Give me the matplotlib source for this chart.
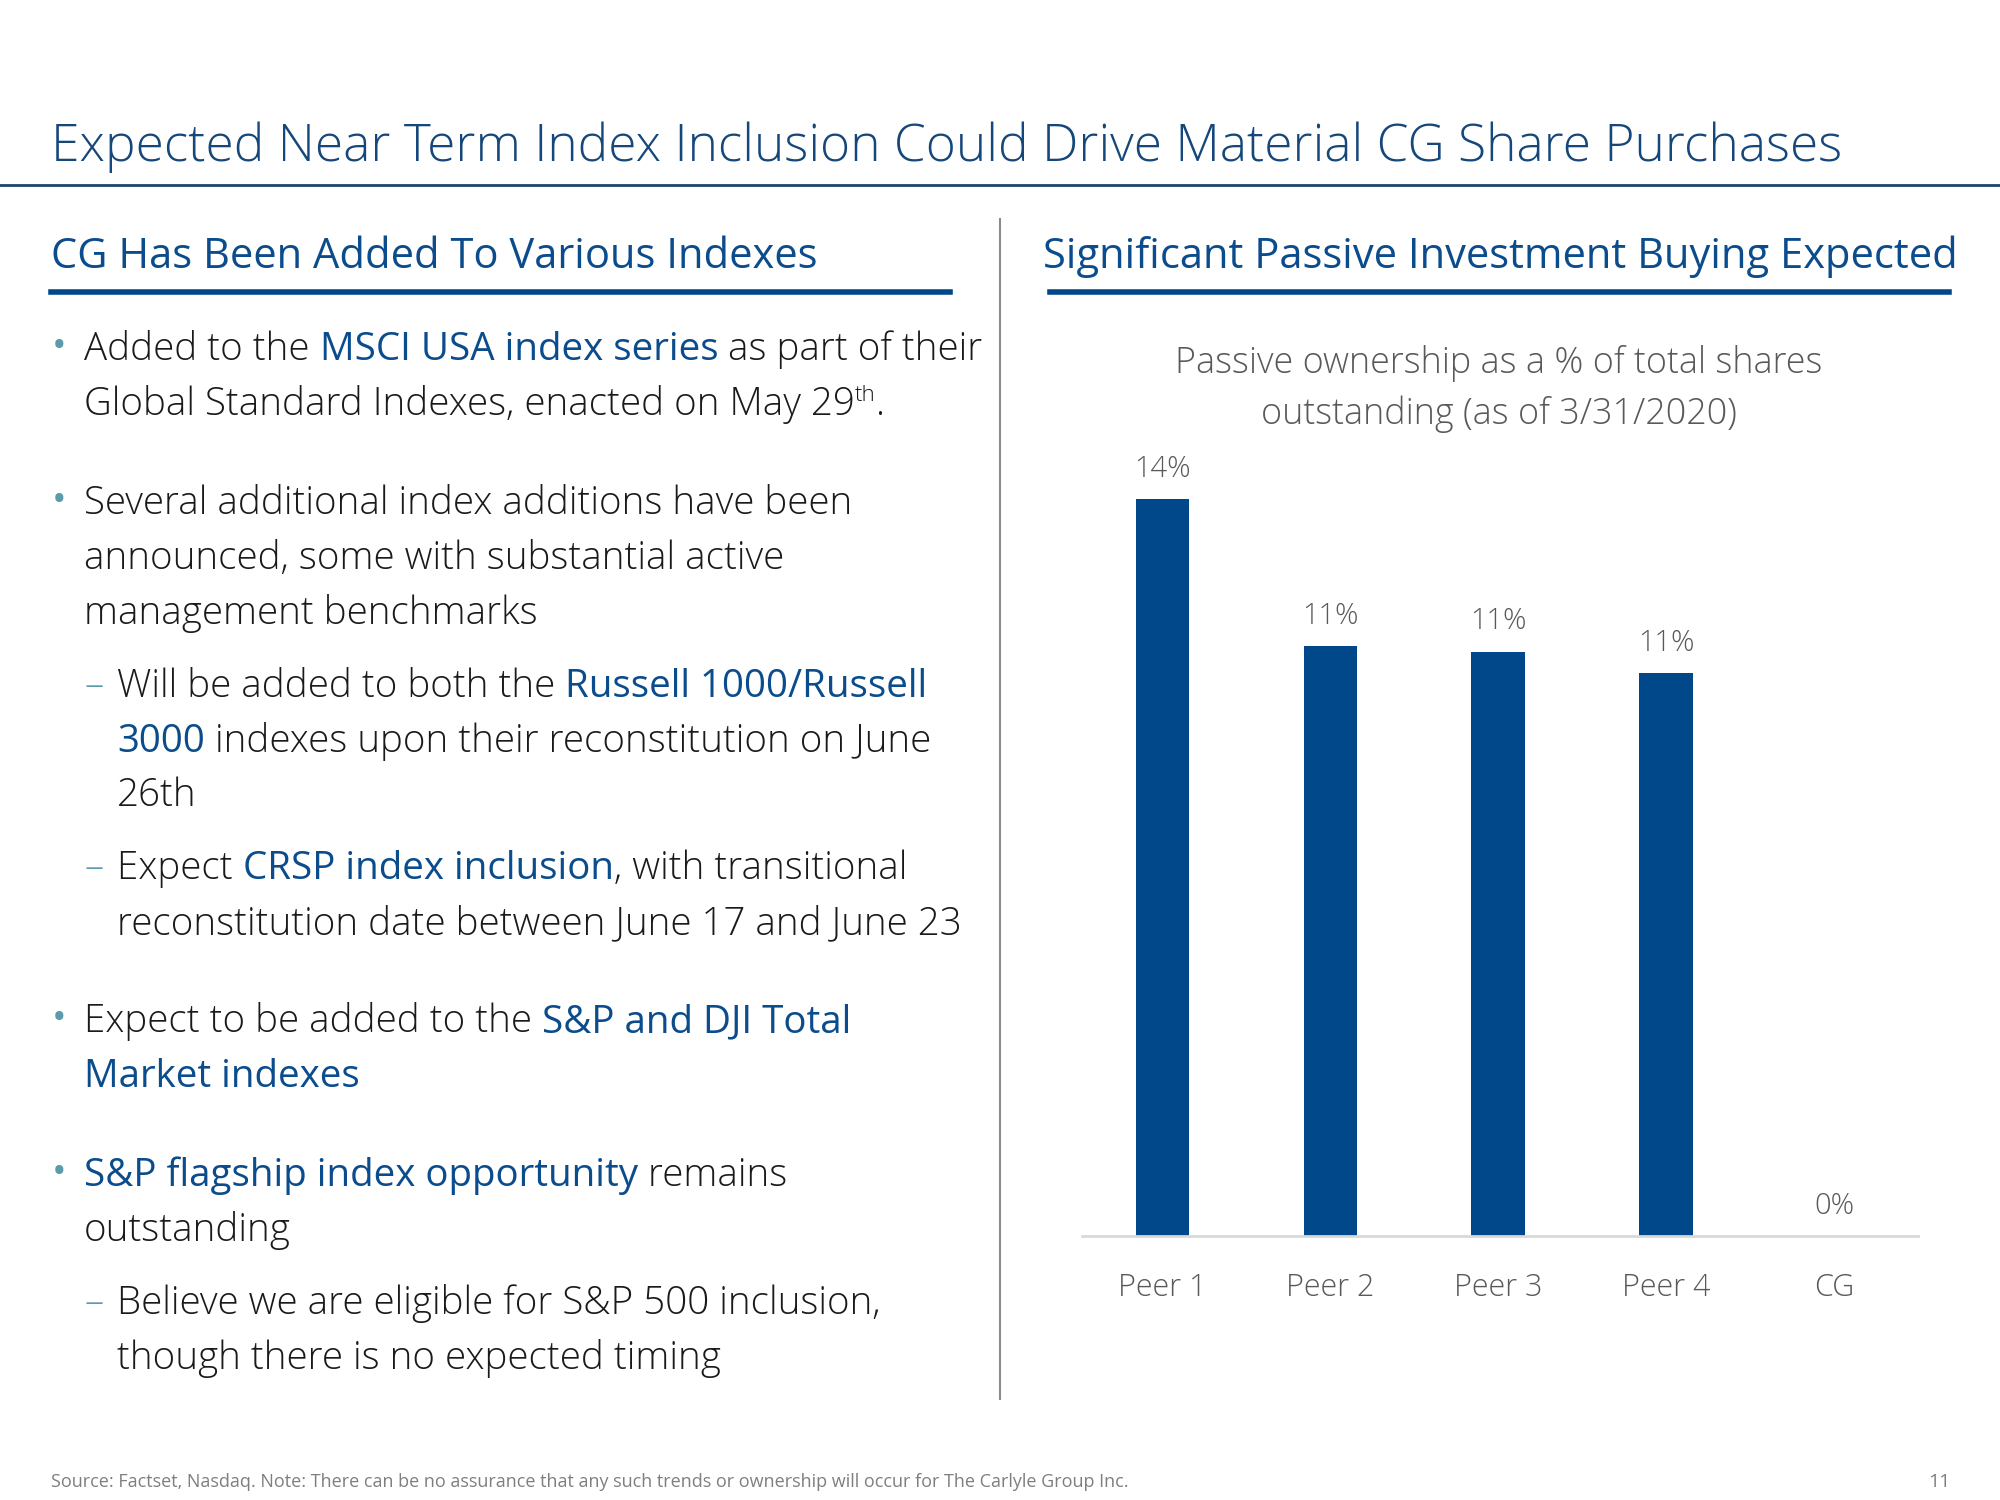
import matplotlib
matplotlib.use('Agg')
import matplotlib.pyplot as plt

# Данные графика
categories = ['Peer 1', 'Peer 2', 'Peer 3', 'Peer 4', 'CG']
values = [14.0, 11.2, 11.1, 10.7, 0.0]
value_labels = ['14%', '11%', '11%', '11%', '0%']

FONT = 'Open Sans'
W, H = 2000, 1500

NAVY = '#15477A'
BLUE = '#0B4C8C'
BAR = '#00488A'
TEAL = '#5B9BAB'
TXT = '#1A1A1A'
GRAY = '#595959'

fig = plt.figure(figsize=(20, 15), dpi=100)
renderer = fig.canvas.get_renderer()


def fx(x):
    return x / W


def fy(y):
    return 1 - y / H


def runs(x, y, parts, size):
    # parts: (текст, цвет, толщина)
    for txt, col, wt in parts:
        t = fig.text(fx(x), fy(y), txt, fontsize=size, color=col, fontweight=wt,
                     family=FONT, ha='left', va='baseline')
        x += t.get_window_extent(renderer).width
    return x


# Заголовок слайда
fig.text(fx(51), fy(161), 'Expected Near Term Index Inclusion Could Drive Material CG Share Purchases',
         fontsize=37, color=NAVY, family=FONT, fontweight='light', va='baseline')
fig.add_artist(plt.Line2D([0, 1], [fy(185), fy(185)], color='#1F4468', lw=2))

# Подзаголовки
fig.text(fx(51), fy(268), 'CG Has Been Added To Various Indexes', fontsize=30, color=BLUE,
         family=FONT, va='baseline')
fig.add_artist(plt.Line2D([fx(51), fx(950)], [fy(292), fy(292)], color=BAR, lw=4))
fig.text(fx(1043), fy(268), 'Significant Passive Investment Buying Expected', fontsize=30, color=BLUE,
         family=FONT, va='baseline')
fig.add_artist(plt.Line2D([fx(1050), fx(1949)], [fy(292), fy(292)], color=BAR, lw=4))

# Вертикальный разделитель
fig.add_artist(plt.Line2D([fx(1000), fx(1000)], [fy(219), fy(1399)], color='#8C8C8C', lw=1.5))

# Текст слева
BODY = 27.7
L, N = 'light', 'normal'
lines = [
    (360, 0, [('Added to the ', TXT, L), ('MSCI USA index series', BLUE, N), (' as part of their', TXT, L)]),
    (415, None, [('Global Standard Indexes, enacted on May 29', TXT, L)]),
    (514, 0, [('Several additional index additions have been', TXT, L)]),
    (569, None, [('announced, some with substantial active', TXT, L)]),
    (624, None, [('management benchmarks', TXT, L)]),
    (697, 1, [('Will be added to both the ', TXT, L), ('Russell 1000/Russell', BLUE, N)]),
    (752, None, [('3000', BLUE, N), (' indexes upon their reconstitution on June', TXT, L)]),
    (806, None, [('26th', TXT, L)]),
    (879, 1, [('Expect ', TXT, L), ('CRSP index inclusion', BLUE, N), (', with transitional', TXT, L)]),
    (934, None, [('reconstitution date between June 17 and June 23', TXT, L)]),
    (1032, 0, [('Expect to be added to the ', TXT, L), ('S&P and DJI Total', BLUE, N)]),
    (1087, None, [('Market indexes', BLUE, N)]),
    (1186, 0, [('S&P flagship index opportunity', BLUE, N), (' remains', TXT, L)]),
    (1241, None, [('outstanding', TXT, L)]),
    (1314, 1, [('Believe we are eligible for S&P 500 inclusion,', TXT, L)]),
    (1369, None, [('though there is no expected timing', TXT, L)]),
]
level = 0
for y, lev, parts in lines:
    if lev is not None:
        level = lev
        if lev == 0:
            fig.text(fx(52), fy(y - 2), '•', fontsize=28, color=TEAL, family=FONT, va='baseline')
        else:
            fig.text(fx(84), fy(y), '–', fontsize=BODY, color=TEAL, family=FONT,
                     fontweight=L, va='baseline')
    x0 = 84 if level == 0 else 117
    xe = runs(x0, y, parts, BODY)
    if y == 415:
        # надстрочный индекс
        xe = runs(xe, y - 14, [('th', TXT, L)], 16)
        runs(xe, y, [('.', TXT, L)], BODY)

# График
ax = fig.add_axes([fx(1082), fy(1236), (1918 - 1082) / W, 16 * 52.64 / H])
x = range(len(categories))
ax.bar(x, values, width=0.32, color=BAR)
ax.set_xlim(-0.48, 4.5)
ax.set_ylim(0, 16)
for i, v in enumerate(values):
    ax.annotate(value_labels[i], (i, v), xytext=(0, 16), textcoords='offset points',
                ha='center', va='baseline', fontsize=21, color=GRAY, family=FONT, fontweight=L)
ax.set_xticks(list(x))
ax.set_xticklabels(categories, fontsize=22, color=GRAY, family=FONT, fontweight=L)
ax.tick_params(axis='x', length=0, pad=26)
ax.set_yticks([])
for s in ['top', 'left', 'right']:
    ax.spines[s].set_visible(False)
ax.spines['bottom'].set_color('#D9D9D9')
ax.spines['bottom'].set_linewidth(2)
ax.patch.set_alpha(0)

fig.text(fx(1499), fy(373), 'Passive ownership as a % of total shares', fontsize=25.8, color=GRAY,
         family=FONT, fontweight=L, ha='center', va='baseline')
fig.text(fx(1499), fy(424), 'outstanding (as of 3/31/2020)', fontsize=25.8, color=GRAY,
         family=FONT, fontweight=L, ha='center', va='baseline')

# Подвал
fig.text(fx(51), fy(1487), 'Source: Factset, Nasdaq. Note: There can be no assurance that any such trends '
         'or ownership will occur for The Carlyle Group Inc.', fontsize=13.0, color='#7F7F7F',
         family=FONT, va='baseline')
fig.text(fx(1950), fy(1487), '11', fontsize=14, color='#7F7F7F', family=FONT, ha='right', va='baseline')

fig.savefig('out.png', dpi=100, facecolor='white')
